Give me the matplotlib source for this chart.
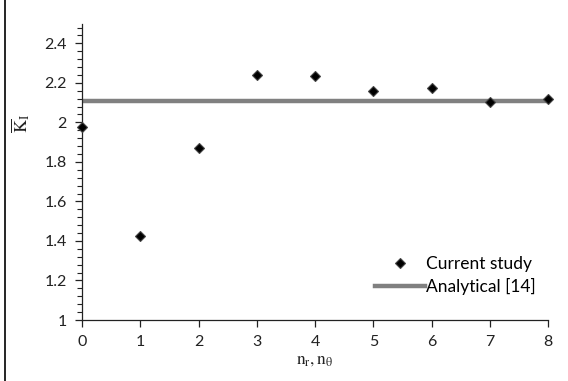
import matplotlib
matplotlib.use('Agg')
import matplotlib.pyplot as plt
from matplotlib.ticker import MultipleLocator
from matplotlib.lines import Line2D

# datos
n_vals = [0, 1, 2, 3, 4, 5, 6, 7, 8]
k_estudio = [1.975, 1.424, 1.871, 2.240, 2.234, 2.159, 2.176, 2.105, 2.117]
k_analitico = 2.107
x_ticks = [0, 1, 2, 3, 4, 5, 6, 7, 8]
y_ticks = [1, 1.2, 1.4, 1.6, 1.8, 2, 2.2, 2.4]
y_labels = ['1', '1.2', '1.4', '1.6', '1.8', '2', '2.2', '2.4']

plt.rcParams['font.family'] = ['Lato', 'DejaVu Sans']
plt.rcParams['mathtext.fontset'] = 'stix'

fig = plt.figure(figsize=(5.68, 3.81), dpi=100)
ax = fig.add_axes([82/568, 1-320/381, (548-82)/568, (320-23.6)/381])

ax.axhline(k_analitico, color='#808080', lw=3.2, label='Analytical [14]', zorder=2)
ax.plot(n_vals, k_estudio, 'D', color='black', ms=5.5, mec='#444444', mew=0.8,
        label='Current study', zorder=3, clip_on=False)

ax.set_xlim(0, 8)
ax.set_ylim(1, 2.5)
ax.set_xticks(x_ticks)
ax.set_yticks(y_ticks)
ax.set_yticklabels(y_labels)
ax.yaxis.set_minor_locator(MultipleLocator(0.04))
for s in ['top', 'right']:
    ax.spines[s].set_visible(False)
for s in ['left', 'bottom']:
    ax.spines[s].set_linewidth(0.9)
    ax.spines[s].set_color('#222222')
ax.tick_params(axis='both', which='major', direction='out', length=5, width=0.9,
               labelsize=11.5, colors='#222222', labelcolor='#222222', pad=6)
ax.tick_params(axis='y', which='minor', direction='out', length=3.5, width=0.8, colors='#222222')

ax.set_xlabel(r'$\mathrm{n_r, n_\theta}$', fontsize=12.5, labelpad=2, color='#222222')
ax.set_ylabel(r'$\overline{\mathrm{K}}_\mathrm{I}$', fontsize=13, color='#222222')
ax.yaxis.set_label_coords(-0.108, 0.665)

h, l = ax.get_legend_handles_labels()
ax.legend([h[1], h[0]], [l[1], l[0]], loc='upper right', bbox_to_anchor=(543/568, 1-249/381),
          bbox_transform=fig.transFigure, frameon=False, fontsize=12.5,
          handlelength=2.9, handletextpad=0.05, labelspacing=0.35, borderaxespad=0)

# borde izquierdo
fig.add_artist(Line2D([5/568, 5/568], [0, 1], color='black', lw=1.2, transform=fig.transFigure))

plt.savefig('out.png', dpi=100)
